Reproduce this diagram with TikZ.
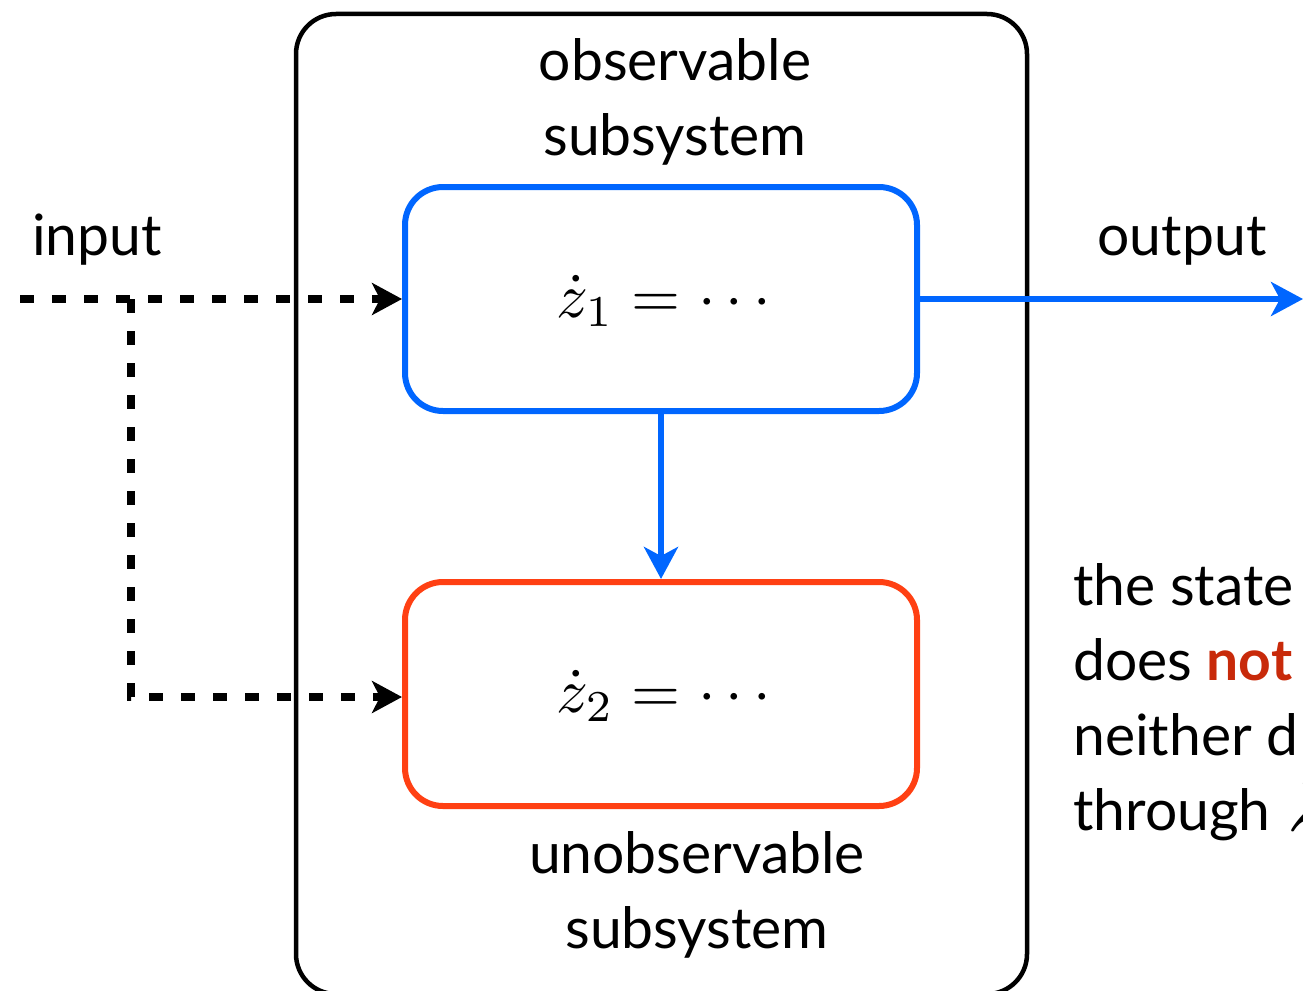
\documentclass[tikz,border=0pt]{standalone}
\usepackage{graphicx}
\usepackage{fontspec}
\setmainfont{Lato}
\usetikzlibrary{arrows.meta}
\definecolor{oblue}{RGB}{0,102,255}
\definecolor{ored}{RGB}{255,64,19}
\definecolor{nred}{RGB}{200,42,10}
\tikzset{
  lbl/.style={font=\fontsize{57}{75}\selectfont, align=center, inner sep=0pt},
  sysbox/.style={draw, line width=6pt, rounded corners=38pt, minimum width=512pt, minimum height=224pt, inner sep=0pt},
  blueflow/.style={oblue, line width=6.5pt, -{Stealth[length=32pt,width=34pt,inset=9pt]}},
  inflow/.style={black, line width=7.5pt, dash pattern=on 14pt off 18pt, -{Stealth[length=30pt,width=32pt,inset=8pt]}},
}
\begin{document}
\begin{tikzpicture}[x=1pt,y=-1pt]
\useasboundingbox (0,0) rectangle (1303,990);
\clip (0,0) rectangle (1303,990);
% outer box
\node (outer) [draw, line width=4.5pt, rounded corners=40pt, minimum width=731pt, minimum height=980pt, inner sep=0pt] at (661.5,504) {};
% subsystem boxes
\node (obs) [sysbox, draw=oblue] at (661,299) {};
\node (obsmath) at (664,301) {\scalebox{6.3}{$\dot z_1 = \cdots$}};
\node (unobs) [sysbox, draw=ored] at (661,694) {};
\node (unobsmath) at (664,696) {\scalebox{6.3}{$\dot z_2 = \cdots$}};
% labels
\node (obslbl) [lbl, anchor=base] at (675,155) {observable\\subsystem};
\node (unobslbl) [lbl, anchor=base] at (697,948) {unobservable\\subsystem};
\node (inlbl) [lbl, anchor=base] at (97,255) {input};
\node (outlbl) [lbl, anchor=base] at (1182,255) {output};
\node (note) [lbl, align=left, anchor=base west] at (1073,830) {the state\\does {\color{nred}\bfseries not}\\neither d\\through \scalebox{5.7}{$z_1$}};
% connectors
\coordinate (instart) at (20,299);
\coordinate (split) at (131,299);
\coordinate (corner) at (131,697);
\coordinate (outend) at (1303,299);
\draw[inflow] (instart) -- (obs.west);
\draw[inflow] (split) -- (corner) -- (unobs.west |- corner);
\draw[blueflow] (obs.east) -- (outend);
\draw[blueflow] (obs.south) -- (unobs.north);
\end{tikzpicture}
\end{document}
